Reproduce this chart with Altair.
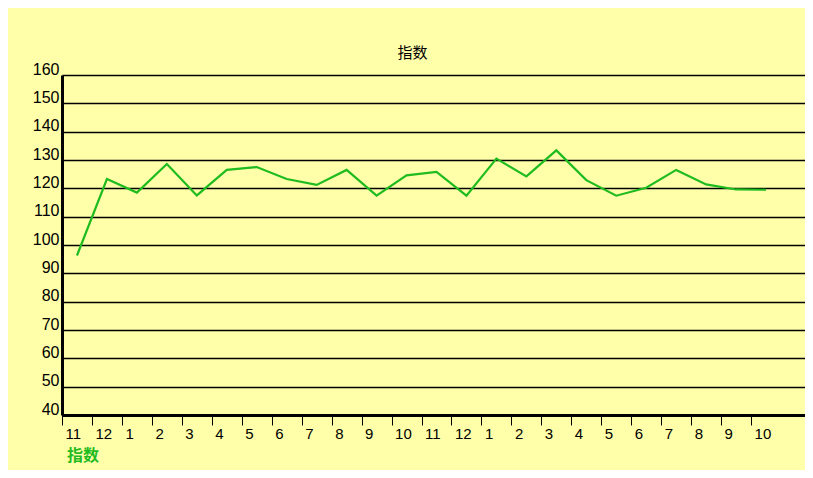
import altair as alt
import pandas as pd

months = ["11", "12", "1", "2", "3", "4", "5", "6", "7", "8", "9", "10",
          "11", "12", "1", "2", "3", "4", "5", "6", "7", "8", "9", "10"]
values = [96.3, 123.3, 118.5, 128.6, 117.5, 126.5, 127.5, 123.3, 121.2, 126.5,
          117.4, 124.6, 125.8, 117.4, 130.5, 124.2, 133.4, 122.9, 117.4, 120.2,
          126.5, 121.4, 119.6, 119.5]
series_name = "指数"
y_ticks = [40, 50, 60, 70, 80, 90, 100, 110, 120, 130, 140, 150, 160]

df = pd.DataFrame({
    "slot": list(range(len(months))),
    "month": months,
    "value": values,
})

label_expr = "[" + ",".join("'" + m + "'" for m in months) + "][datum.value]"

GREEN = "#1fbb1f"

base = alt.Chart(df)

line = base.transform_calculate(pos="datum.slot + 0.5").mark_line(
    color=GREEN, strokeWidth=2.2
).encode(
    x=alt.X("pos:Q",
            scale=alt.Scale(domain=[0, 24.8], nice=False, zero=False),
            axis=alt.Axis(values=list(range(len(months))), labelExpr=label_expr,
                          title=None, grid=False, labelAlign="left", labelBaseline="top",
                          labelOffset=3, labelPadding=1, tickSize=10, tickColor="black",
                          tickWidth=1, domainColor="black", domainWidth=3,
                          labelFont="Arial", labelFontSize=15, labelColor="black")),
    y=alt.Y("value:Q",
            scale=alt.Scale(domain=[40, 160], nice=False, zero=False),
            axis=alt.Axis(values=y_ticks, title=None, grid=True, gridColor="black",
                          gridWidth=1.5, gridOpacity=1, ticks=False, domainColor="black",
                          domainWidth=3, labelBaseline="alphabetic", labelPadding=3,
                          labelFont="Arial", labelFontSize=16, labelColor="black",
                          labelOffset=-1)),
)

legend_df = pd.DataFrame({"label": [series_name]})
legend = alt.Chart(legend_df).mark_text(
    align="left", baseline="middle", color=GREEN, fontSize=16,
    font="Noto Sans CJK SC", fontWeight="bold"
).encode(
    text="label:N",
    x=alt.value(5),
    y=alt.value(381),
)

chart = alt.layer(line, legend).properties(
    width=743,
    height=340,
    autosize=alt.AutoSizeParams(type="none"),
    padding={"left": 54, "top": 67, "right": 0, "bottom": 55},
    title=alt.TitleParams(series_name, fontSize=15, font="Noto Sans CJK SC",
                          fontWeight="normal", color="black", anchor="middle",
                          frame="group", offset=0, dx=-21),
).configure(background="#FFFFAA").configure_view(strokeWidth=0)

chart.save("out.html", embed_options={"renderer": "svg", "actions": False})
